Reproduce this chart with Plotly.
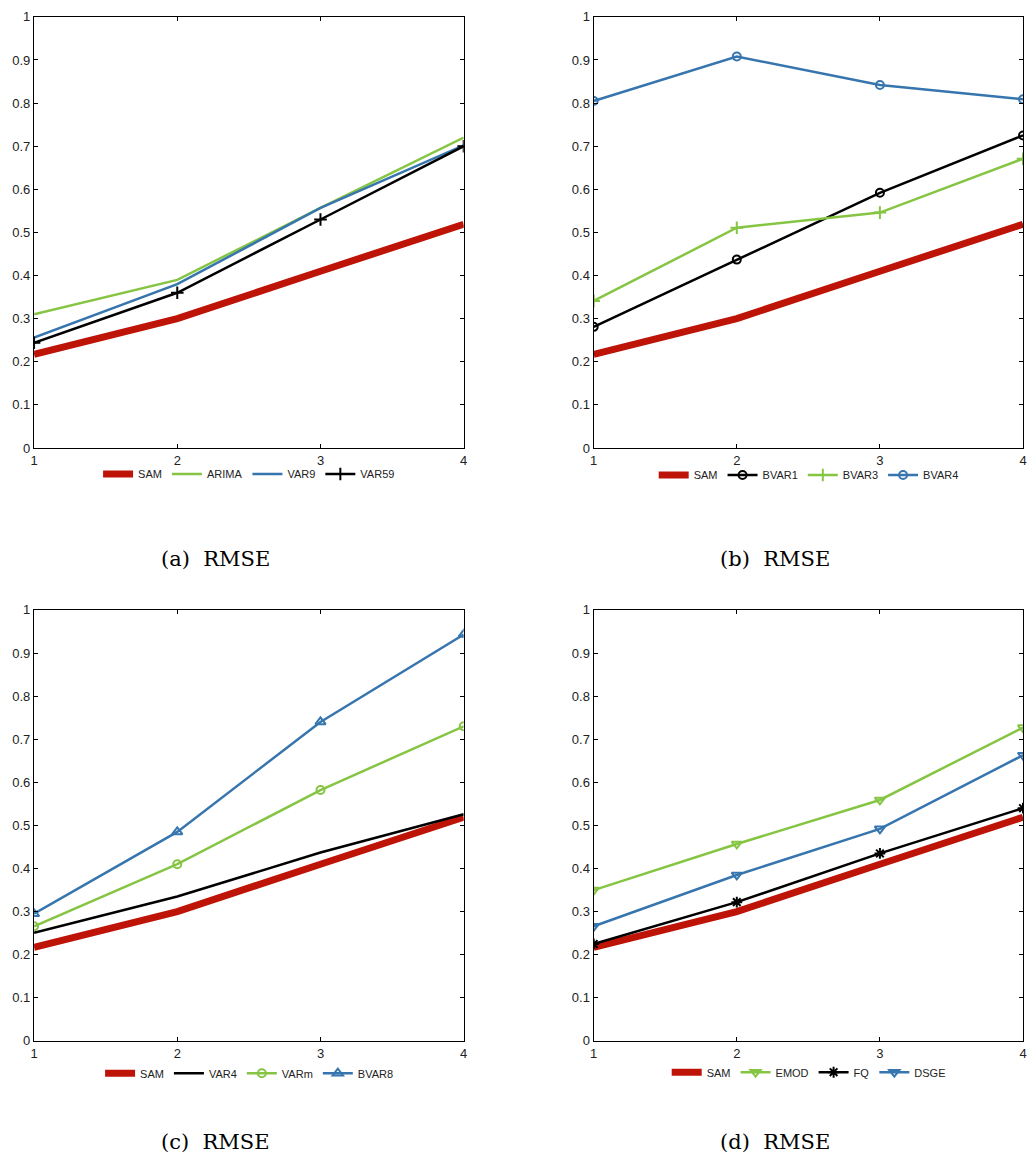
import plotly.graph_objects as go

horizons = [1, 2, 3, 4]
y_ticks = [0, 0.1, 0.2, 0.3, 0.4, 0.5, 0.6, 0.7, 0.8, 0.9, 1]

sam = [0.217, 0.300, 0.410, 0.519]

# panel (a)
arima = [0.310, 0.390, 0.557, 0.720]
var9 = [0.256, 0.380, 0.557, 0.702]
var59 = [0.244, 0.360, 0.530, 0.700]

# panel (b)
bvar1 = [0.281, 0.437, 0.592, 0.725]
bvar3 = [0.341, 0.511, 0.546, 0.671]
bvar4 = [0.805, 0.908, 0.842, 0.809]

# panel (c)
var4 = [0.251, 0.335, 0.437, 0.526]
varm = [0.266, 0.410, 0.582, 0.730]
bvar8 = [0.295, 0.485, 0.740, 0.943]

# panel (d)
emod = [0.350, 0.457, 0.559, 0.727]
fq = [0.225, 0.322, 0.435, 0.540]
dsge = [0.266, 0.385, 0.492, 0.663]

captions = ["(a)\u00a0 RMSE", "(b)\u00a0 RMSE", "(c)\u00a0 RMSE", "(d)\u00a0 RMSE"]

RED = "#BE1408"
GREEN = "#86C543"
BLUE = "#3775AE"
BLACK = "#000000"

W, H = 1030, 1175

def px_x(p):
    return p / W

def px_y(p):
    return 1 - p / H

xdoms = [[px_x(30.3), px_x(463.3)], [px_x(594.3), px_x(1027)]]
ydoms = [[px_y(446.7), px_y(10)], [px_y(1047.3), px_y(610.7)]]

fig = go.Figure()

panels = [
    [("SAM", sam, RED, 7, None), ("ARIMA", arima, GREEN, 2.5, None),
     ("VAR9", var9, BLUE, 2.5, None), ("VAR59", var59, BLACK, 2.5, "cross-thin-open")],
    [("SAM", sam, RED, 7, None), ("BVAR1", bvar1, BLACK, 2.5, "circle-open"),
     ("BVAR3", bvar3, GREEN, 2.5, "cross-thin-open"), ("BVAR4", bvar4, BLUE, 2.5, "circle-open")],
    [("SAM", sam, RED, 7, None), ("VAR4", var4, BLACK, 2.5, None),
     ("VARm", varm, GREEN, 2.5, "circle-open"), ("BVAR8", bvar8, BLUE, 2.5, "triangle-up-open")],
    [("SAM", sam, RED, 7, None), ("EMOD", emod, GREEN, 2.5, "triangle-down-open"),
     ("FQ", fq, BLACK, 2.5, "asterisk-open"), ("DSGE", dsge, BLUE, 2.5, "triangle-down-open")],
]

legend_pos = [(247, 473), (811, 474), (247, 1080), (811, 1079)]
caption_pos = [(213, 559), (777, 559), (213, 1150), (777, 1150)]

axis_common = dict(
    showline=True, linecolor="black", linewidth=1.3, mirror="ticks",
    ticks="inside", ticklen=4, tickwidth=1, tickcolor="black",
    showgrid=False, zeroline=False,
    tickfont=dict(family="Liberation Sans", size=13, color="#222"),
)

for i, series in enumerate(panels):
    r, c = divmod(i, 2)
    ax = "" if i == 0 else str(i + 1)
    leg = "legend" if i == 0 else f"legend{i + 1}"
    for name, vals, color, width, sym in series:
        kw = dict(x=horizons, y=vals, name=name, legend=leg,
                  xaxis="x" + ax, yaxis="y" + ax,
                  line=dict(color=color, width=width))
        if sym:
            size = 8 if "circle" in sym else 9
            kw["mode"] = "lines+markers"
            kw["marker"] = dict(symbol=sym, size=size, color=color,
                                line=dict(color=color, width=2))
        else:
            kw["mode"] = "lines"
        fig.add_trace(go.Scatter(**kw))
    fig.layout["xaxis" + ax] = dict(
        domain=xdoms[c], range=[1, 4], tickvals=horizons,
        anchor="y" + ax, **axis_common)
    fig.layout["yaxis" + ax] = dict(
        domain=ydoms[r], range=[0, 1], tickvals=y_ticks,
        anchor="x" + ax, **axis_common)
    lx, ly = legend_pos[i]
    fig.layout[leg] = dict(
        orientation="h", x=px_x(lx), y=px_y(ly), xanchor="center", yanchor="middle",
        font=dict(family="Liberation Sans", size=11, color="#222"),
        bgcolor="rgba(0,0,0,0)", itemwidth=30, tracegroupgap=0,
    )
    cx, cy = caption_pos[i]
    fig.add_annotation(
        text=captions[i], x=px_x(cx), y=px_y(cy), xref="paper", yref="paper",
        showarrow=False, xanchor="center", yanchor="middle",
        font=dict(family="DejaVu Serif", size=21, color="black"),
    )

fig.update_layout(
    width=W, height=H, margin=dict(l=0, r=0, t=0, b=0),
    paper_bgcolor="white", plot_bgcolor="white", showlegend=True,
)

fig.write_html(
    "out.html",
    config={"displayModeBar": False},
    post_script="document.body.style.margin='0';document.body.style.overflow='hidden';",
)
